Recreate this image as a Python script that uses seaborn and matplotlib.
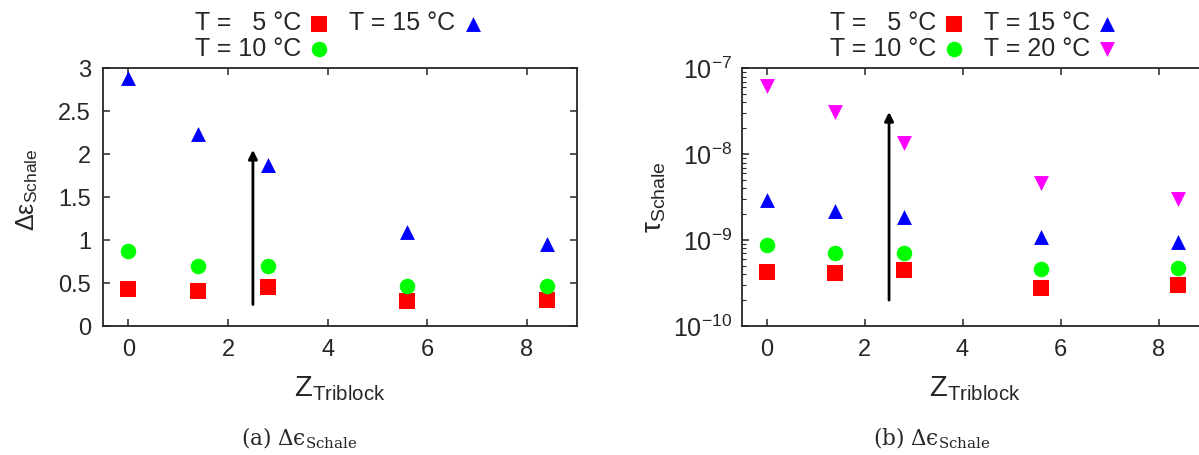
import numpy as np
import pandas as pd
import matplotlib
matplotlib.use('Agg')
import matplotlib.pyplot as plt
import matplotlib.ticker as mticker
import seaborn as sns


Z_TRIBLOCK = [0.0, 1.4, 2.8, 5.6, 8.4]

TEMPS = ['5', '10', '15', '20']
LABELS = {
    '5': 'T =   5 °C',
    '10': 'T = 10 °C',
    '15': 'T = 15 °C',
    '20': 'T = 20 °C',
}

# delta epsilon (left panel)
D_EPS_5 = [0.43, 0.41, 0.45, 0.29, 0.30]
D_EPS_10 = [0.87, 0.70, 0.70, 0.46, 0.47]
D_EPS_15 = [2.89, 2.23, 1.87, 1.09, 0.96]

# tau (right panel)
TAU_5 = [4.2e-10, 4.1e-10, 4.5e-10, 2.8e-10, 3.0e-10]
TAU_10 = [8.7e-10, 7.0e-10, 7.0e-10, 4.6e-10, 4.7e-10]
TAU_15 = [2.9e-9, 2.2e-9, 1.85e-9, 1.08e-9, 0.95e-9]
TAU_20 = [6.3e-8, 3.1e-8, 1.35e-8, 4.6e-9, 3.0e-9]

# arrows (x, y_start, y_end)
ARROW_LEFT = (2.5, 0.25, 2.05)
ARROW_RIGHT = (2.5, 2.0e-10, 3.1e-8)

COLORS = {'5': '#ff0000', '10': '#00ff00', '15': '#0000ff', '20': '#ff00ff'}
MARKERS = {'5': 's', '10': 'o', '15': '^', '20': 'v'}
SIZES = {'5': 135, '10': 125, '15': 115, '20': 115}


def long_frame(series):
    rows = []
    for temp, values in series.items():
        for z, v in zip(Z_TRIBLOCK, values):
            rows.append({'z': z, 'value': v, 'temp': temp})
    return pd.DataFrame(rows)


def draw_panel(ax, df, temps):
    for temp in temps:
        sub = df[df['temp'] == temp]
        sns.scatterplot(data=sub, x='z', y='value', ax=ax,
                        color=COLORS[temp], marker=MARKERS[temp],
                        s=SIZES[temp], linewidth=0, label=LABELS[temp])
    ax.set_xlim(-0.5, 9)
    ax.set_xticks([0, 2, 4, 6, 8])
    ax.tick_params(direction='in', top=True, right=True, length=5,
                   width=1.1, labelsize=17, pad=9)
    ax.tick_params(which='minor', direction='in', length=3, width=0.8,
                   top=False, right=True)
    for sp in ax.spines.values():
        sp.set_linewidth(1.3)
    ax.set_xlabel('Z$_{\\mathsf{Triblock}}$', fontsize=21, labelpad=10)
    ax.legend(ncol=2, markerfirst=False, frameon=False, loc='lower center',
              bbox_to_anchor=(0.5, 1.02), fontsize=18, handletextpad=0.2,
              columnspacing=0.7, labelspacing=0.05, borderaxespad=0.0,
              handlelength=1.0, borderpad=0.1)


sns.set_style('ticks')
plt.rcParams['font.family'] = ['Liberation Sans', 'DejaVu Sans']
plt.rcParams['mathtext.fontset'] = 'custom'
plt.rcParams['mathtext.rm'] = 'DejaVu Serif'
plt.rcParams['mathtext.it'] = 'DejaVu Serif:italic'
plt.rcParams['mathtext.sf'] = 'Liberation Sans'

fig = plt.figure(figsize=(11.99, 4.55), dpi=100)
ax1 = fig.add_axes([0.0863, 0.2835, 0.3947, 0.5664])
ax2 = fig.add_axes([0.6189, 0.2835, 0.3882, 0.5664])

left = long_frame({'5': D_EPS_5, '10': D_EPS_10, '15': D_EPS_15})
draw_panel(ax1, left, ['5', '10', '15'])
ax1.set_ylim(0, 3)
ax1.set_yticks(np.arange(0, 3.01, 0.5))
ax1.yaxis.set_major_formatter(mticker.FuncFormatter(lambda v, p: f'{v:g}'))
ax1.set_ylabel('Δε$_{\\mathsf{Schale}}$', fontsize=18)
ax1.yaxis.set_label_coords(-0.135, 0.53)
ax1.annotate('', xy=(ARROW_LEFT[0], ARROW_LEFT[2]),
             xytext=(ARROW_LEFT[0], ARROW_LEFT[1]),
             arrowprops=dict(arrowstyle='-|>', color='black', lw=2,
                             mutation_scale=13, shrinkA=0, shrinkB=0))

right = long_frame({'5': TAU_5, '10': TAU_10, '15': TAU_15, '20': TAU_20})
draw_panel(ax2, right, ['5', '10', '15', '20'])
ax2.set_yscale('log')
ax2.set_ylim(1e-10, 1e-7)
ax2.yaxis.set_major_locator(mticker.LogLocator(base=10))
ax2.yaxis.set_minor_locator(mticker.LogLocator(base=10, subs=np.arange(2, 10)))
ax2.yaxis.set_minor_formatter(mticker.NullFormatter())
ax2.tick_params(axis='y', labelsize=18, pad=7)
ax2.set_ylabel('τ$_{\\mathsf{Schale}}$', fontsize=20, labelpad=4)
ax2.annotate('', xy=(ARROW_RIGHT[0], ARROW_RIGHT[2]),
             xytext=(ARROW_RIGHT[0], ARROW_RIGHT[1]),
             arrowprops=dict(arrowstyle='-|>', color='black', lw=2,
                             mutation_scale=13, shrinkA=0, shrinkB=0))

fig.text(0.250, 0.022, '(a) Δϵ$_{\\mathrm{Schale}}$', ha='center',
         fontsize=15.5, family='DejaVu Serif')
fig.text(0.777, 0.022, '(b) Δϵ$_{\\mathrm{Schale}}$', ha='center',
         fontsize=15.5, family='DejaVu Serif')

fig.savefig('out.png', dpi=100)
